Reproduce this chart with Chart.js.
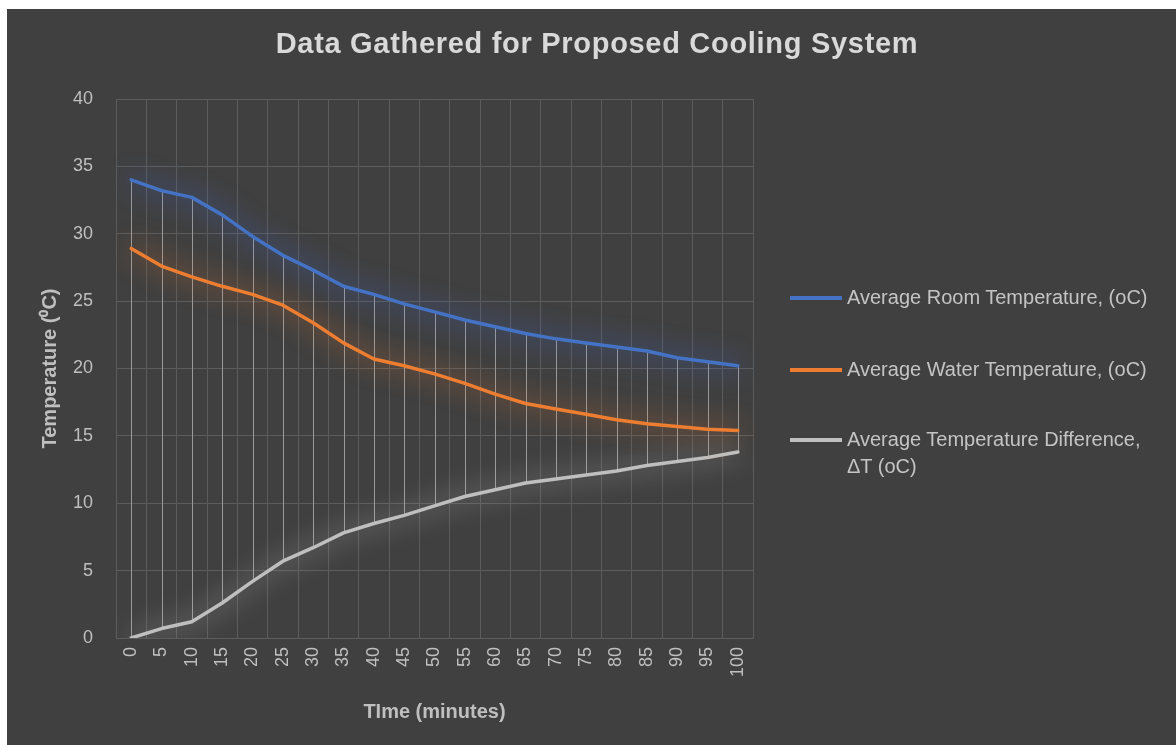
<!DOCTYPE html>
<html>
<head>
<meta charset="utf-8">
<script src="https://cdn.jsdelivr.net/npm/chart.js@4.4.0/dist/chart.umd.min.js"></script>
<style>
  body { margin:0; background:#fff; font-family:"Liberation Sans", Arial, sans-serif; }
  #wrap { position:absolute; left:7px; top:9px; width:1169px; height:736px; background:#404040; overflow:hidden; }
  #chart { position:absolute; left:0; top:0; }
  #title { position:absolute; left:0; top:18px; width:1180px; text-align:center; color:#d9d9d9;
           font-weight:bold; font-size:29px; letter-spacing:0.7px; }
  .leg { position:absolute; left:783px; color:#c4c4c4; font-size:20px; line-height:27px; white-space:pre; }
  .leg .swatch { position:absolute; left:0; top:12px; width:52px; height:4px; }
  .leg .txt { margin-left:57px; }
</style>
</head>
<body>
<div id="wrap">
  <canvas id="chart" width="1169" height="736"></canvas>
  <div id="title">Data Gathered for Proposed Cooling System</div>
  <div id="legend"></div>
</div>
<script>
/* ===== data ===== */
const minutes = ['0','5','10','15','20','25','30','35','40','45','50','55','60','65','70','75','80','85','90','95','100'];
const roomTemp  = [34.0,33.2,32.7,31.4,29.8,28.4,27.3,26.1,25.5,24.8,24.2,23.6,23.1,22.6,22.2,21.9,21.6,21.3,20.8,20.5,20.2];
const waterTemp = [28.9,27.6,26.8,26.1,25.5,24.7,23.4,21.9,20.7,20.2,19.6,18.9,18.1,17.4,17.0,16.6,16.2,15.9,15.7,15.5,15.4];
const tempDiff  = [0.0,0.7,1.2,2.6,4.2,5.7,6.7,7.8,8.5,9.1,9.8,10.5,11.0,11.5,11.8,12.1,12.4,12.8,13.1,13.4,13.8];
const seriesNames = ['Average Room Temperature, (oC)', 'Average Water Temperature, (oC)', 'Average Temperature Difference,\nΔT (oC)'];
const yTicks = { min:0, max:40, step:5 };

const textCol = '#bfbfbf';
const gridCol = '#5c5c5c';

/* ===== glow under each line (Excel style) ===== */
const glowPlugin = {
  id: 'glow',
  beforeDatasetDraw(chart, args){
    const ds = chart.data.datasets[args.index];
    chart.ctx.save();
    chart.ctx.shadowColor = ds.glow;
    chart.ctx.shadowBlur = 26;
  },
  afterDatasetDraw(chart){ chart.ctx.restore(); }
};

/* ===== high-low lines between top and bottom series ===== */
const hiLoPlugin = {
  id: 'hiLo',
  beforeDatasetsDraw(chart){
    const {ctx, scales:{x, y}} = chart;
    ctx.save();
    ctx.strokeStyle = '#9a9a9a';
    ctx.lineWidth = 1;
    minutes.forEach((m, i)=>{
      const vals = chart.data.datasets.map(d=>d.data[i]);
      const px = Math.round(x.getPixelForValue(i)) + 0.5;
      ctx.beginPath();
      ctx.moveTo(px, y.getPixelForValue(Math.max(...vals)));
      ctx.lineTo(px, y.getPixelForValue(Math.min(...vals)));
      ctx.stroke();
    });
    ctx.restore();
  }
};

const lineDefaults = { borderWidth:3.5, pointRadius:0, tension:0, borderCapStyle:'round', borderJoinStyle:'round', fill:false };

const chart = new Chart(document.getElementById('chart'), {
  type: 'line',
  data: {
    labels: minutes,
    datasets: [
      { label: seriesNames[0], data: roomTemp,  borderColor:'#4472C4', glow:'rgba(60,110,235,1)', ...lineDefaults },
      { label: seriesNames[1], data: waterTemp, borderColor:'#ED7D31', glow:'rgba(237,120,40,1)', ...lineDefaults },
      { label: seriesNames[2], data: tempDiff,  borderColor:'#BFBFBF', glow:'rgba(210,210,210,0.9)', ...lineDefaults }
    ]
  },
  plugins: [hiLoPlugin, glowPlugin],
  options: {
    responsive:false,
    animation:false,
    layout:{ padding:{ top:90, right:423, left:0, bottom:0 } },
    plugins:{ legend:{ display:false }, title:{ display:false }, tooltip:{ enabled:false } },
    scales:{
      x:{
        offset:true,
        grid:{ offset:true, color:gridCol, drawTicks:false },
        border:{ color:gridCol },
        ticks:{ color:textCol, font:{ family:'Liberation Sans', size:18 }, minRotation:90, maxRotation:90, padding:9, autoSkip:false },
        title:{ display:true, text:'TIme (minutes)', color:textCol, font:{ family:'Liberation Sans', size:20, weight:'bold' }, padding:{ top:0, bottom:21 } },
        afterFit(s){ s.height = 107; }
      },
      y:{
        min:yTicks.min, max:yTicks.max,
        grid:{ color:gridCol, drawTicks:false },
        border:{ display:false },
        ticks:{ stepSize:yTicks.step, color:textCol, font:{ family:'Liberation Sans', size:18 }, padding:23 },
        title:{ display:true, text:'Temperature (⁰C)', color:textCol, font:{ family:'Liberation Sans', size:20, weight:'bold' }, padding:{ top:31, bottom:0 } },
        afterFit(s){ s.width = 109; }
      }
    }
  }
});

/* ===== legend (html, right side) ===== */
const legendEl = document.getElementById('legend');
const rowTops = [275, 347, 417];
chart.data.datasets.forEach((ds, i)=>{
  const row = document.createElement('div');
  row.className = 'leg';
  row.style.top = rowTops[i] + 'px';
  row.innerHTML = `<div class="swatch" style="background:${ds.borderColor}"></div><div class="txt"></div>`;
  row.querySelector('.txt').textContent = ds.label;
  legendEl.appendChild(row);
});
</script>
</body>
</html>
